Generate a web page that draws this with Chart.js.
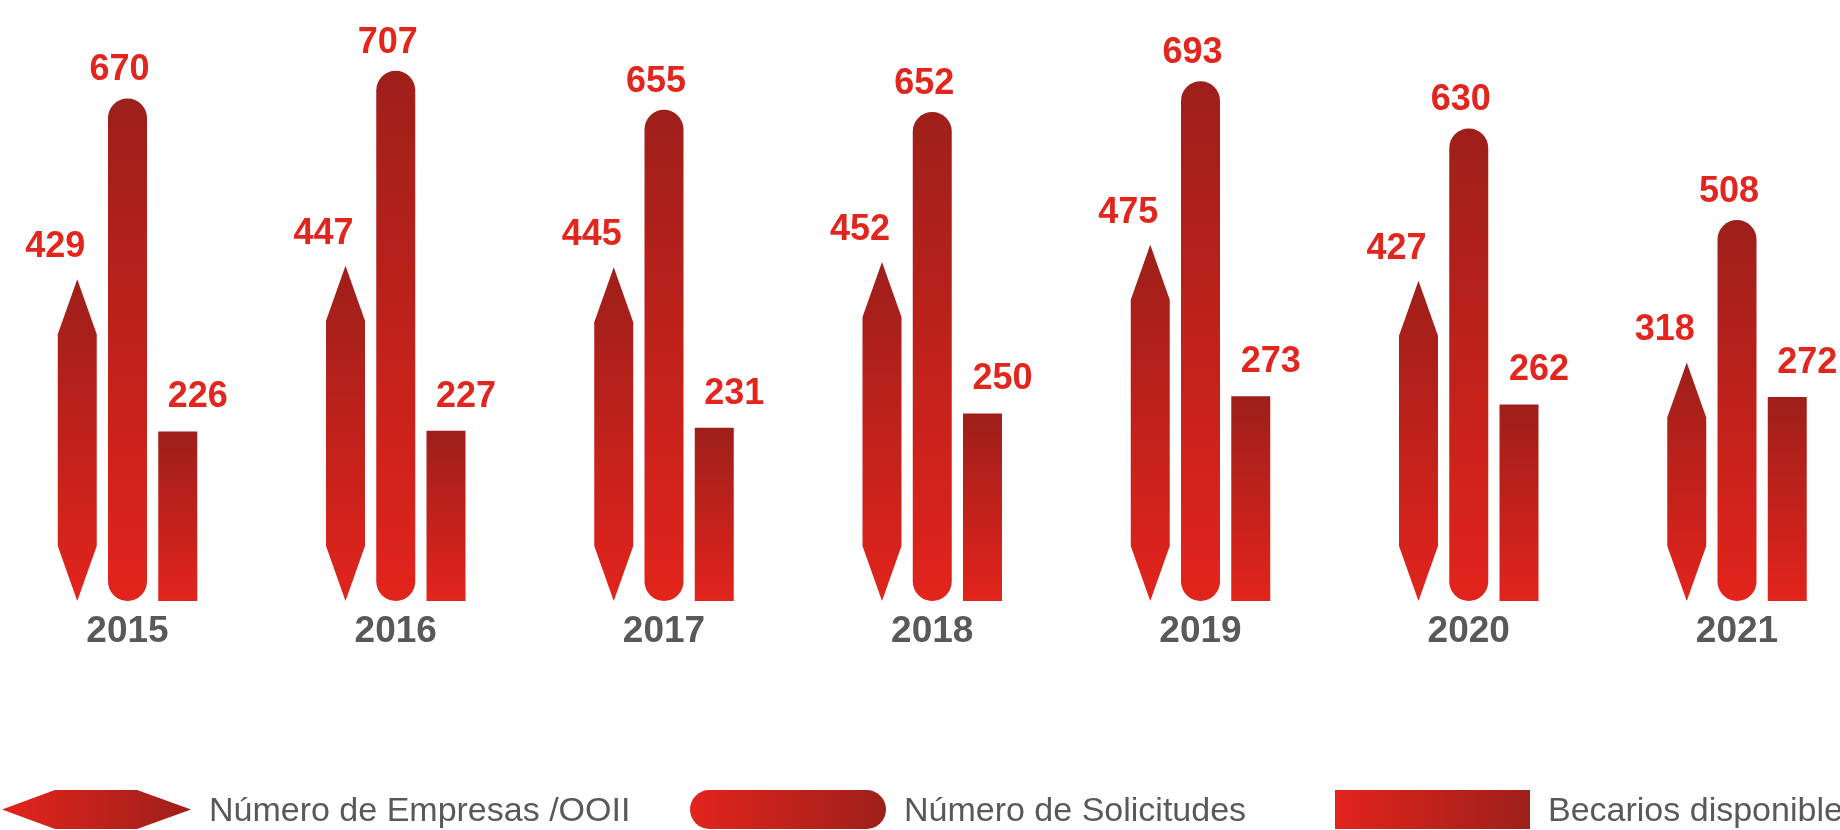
<!DOCTYPE html>
<html lang="es">
<head>
<meta charset="utf-8">
<title>Empresas, solicitudes y becarios 2015-2021</title>
<script src="https://cdn.jsdelivr.net/npm/chart.js@4.4.1/dist/chart.umd.min.js"></script>
<style>
  html, body { margin: 0; padding: 0; background: #fff; }
  #wrap { position: relative; width: 1840px; height: 830px; overflow: hidden; }
  #wrap canvas { position: absolute; left: 0; top: 0; }

  /* ===== Legend ===== */
  .legend-item { position: absolute; top: 790px; display: flex; align-items: center; white-space: nowrap; }
  .swatch { height: 39px; background: linear-gradient(to right, #e2241c, #9e1f1a); }
  .swatch.hex { width: 189px; clip-path: polygon(0 50%, 28% 0, 71.5% 0, 100% 50%, 71.5% 100%, 28% 100%); }
  .swatch.pill { width: 196px; border-radius: 20px; }
  .swatch.rect { width: 195px; }
  .legend-item span {
    font: 34px 'Liberation Sans', Arial, sans-serif;
    color: #58595b;
    line-height: 39px;
    margin-left: 18px;
  }
</style>
</head>
<body>
<div id="wrap">
  <canvas id="chartBecas" width="1840" height="830"></canvas>
  <div class="legend-item" style="left:2px"><div class="swatch hex"></div><span id="lg0"></span></div>
  <div class="legend-item" style="left:690px"><div class="swatch pill"></div><span id="lg1"></span></div>
  <div class="legend-item" style="left:1335px"><div class="swatch rect"></div><span id="lg2"></span></div>
</div>

<script>
// ===== Data =====
const years = ['2015', '2016', '2017', '2018', '2019', '2020', '2021'];
const empresas = [429, 447, 445, 452, 475, 427, 318];
const solicitudes = [670, 707, 655, 652, 693, 630, 508];
const becarios = [226, 227, 231, 250, 273, 262, 272];
const seriesNames = ['Número de Empresas /OOII', 'Número de Solicitudes', 'Becarios disponibles'];

const RED_LIGHT = '#e2241c';
const RED_DARK = '#9e1f1a';
const RED_MID = '#c0211b';
const LABEL_RED = '#e2261e';
const GREY = '#58595b';

Chart.defaults.font.family = "'Liberation Sans', Arial, sans-serif";

// legend text
seriesNames.forEach((name, i) => {
  document.getElementById('lg' + i).textContent = name;
});

// vertical gradient, bright at the base and dark at the top of each bar
function barGradient(ctx, top, bottom) {
  if (!Number.isFinite(top) || !Number.isFinite(bottom) || top === bottom) return RED_MID;
  const g = ctx.createLinearGradient(0, bottom, 0, top);
  g.addColorStop(0, RED_LIGHT);
  g.addColorStop(1, RED_DARK);
  return g;
}

function barFill(c) {
  const y = c.chart.scales.y;
  if (!y || c.raw == null) return RED_MID;
  return barGradient(c.chart.ctx, y.getPixelForValue(c.raw), y.getPixelForValue(0));
}

// first series is drawn as a pointed column (hexagon) over an invisible bar
const hexBars = {
  id: 'hexBars',
  afterDatasetsDraw(chart) {
    const ctx = chart.ctx;
    const meta = chart.getDatasetMeta(0);
    meta.data.forEach(bar => {
      const { x, y, base, width } = bar.getProps(['x', 'y', 'base', 'width'], true);
      const half = width / 2;
      const tip = 55;
      ctx.save();
      ctx.beginPath();
      ctx.moveTo(x, y);
      ctx.lineTo(x + half, y + tip);
      ctx.lineTo(x + half, base - tip);
      ctx.lineTo(x, base);
      ctx.lineTo(x - half, base - tip);
      ctx.lineTo(x - half, y + tip);
      ctx.closePath();
      ctx.fillStyle = barGradient(ctx, y, base);
      ctx.fill();
      ctx.restore();
    });
  }
};

// value labels above each mark
const labelOffsets = [
  { dx: -22, dy: -32 },
  { dx: -8, dy: -28 },
  { dx: 20, dy: -34 }
];
const valueLabels = {
  id: 'valueLabels',
  afterDatasetsDraw(chart) {
    const ctx = chart.ctx;
    ctx.save();
    ctx.font = "bold 36px 'Liberation Sans', Arial, sans-serif";
    ctx.fillStyle = LABEL_RED;
    ctx.textAlign = 'center';
    ctx.textBaseline = 'middle';
    chart.data.datasets.forEach((ds, i) => {
      const meta = chart.getDatasetMeta(i);
      meta.data.forEach((bar, j) => {
        const off = labelOffsets[i];
        ctx.fillText(String(ds.data[j]), bar.x + off.dx, bar.y + off.dy);
      });
    });
    ctx.restore();
  }
};

const ctx = document.getElementById('chartBecas').getContext('2d');

new Chart(ctx, {
  type: 'bar',
  data: {
    labels: years,
    datasets: [
      {
        label: seriesNames[0],
        data: empresas,
        backgroundColor: 'rgba(0,0,0,0)',
        borderWidth: 0,
        clip: false
      },
      {
        label: seriesNames[1],
        data: solicitudes,
        backgroundColor: barFill,
        borderWidth: 0,
        borderRadius: 20,
        borderSkipped: false,
        clip: false
      },
      {
        label: seriesNames[2],
        data: becarios,
        backgroundColor: barFill,
        borderWidth: 0,
        clip: false
      }
    ]
  },
  options: {
    responsive: false,
    animation: false,
    events: [],
    categoryPercentage: 0.562,
    barPercentage: 0.776,
    layout: {
      padding: { top: 31, left: 127.5, right: 103, bottom: 0 }
    },
    scales: {
      x: {
        offset: false,
        grid: { display: false },
        border: { display: false },
        ticks: {
          color: GREY,
          font: { size: 37, weight: 'bold' },
          padding: 1,
          maxRotation: 0,
          autoSkip: false
        },
        afterFit: axis => { axis.height = 229; }
      },
      y: {
        display: false,
        min: 0,
        max: 760
      }
    },
    plugins: {
      legend: { display: false },
      tooltip: { enabled: false }
    }
  },
  plugins: [hexBars, valueLabels]
});
</script>
</body>
</html>
